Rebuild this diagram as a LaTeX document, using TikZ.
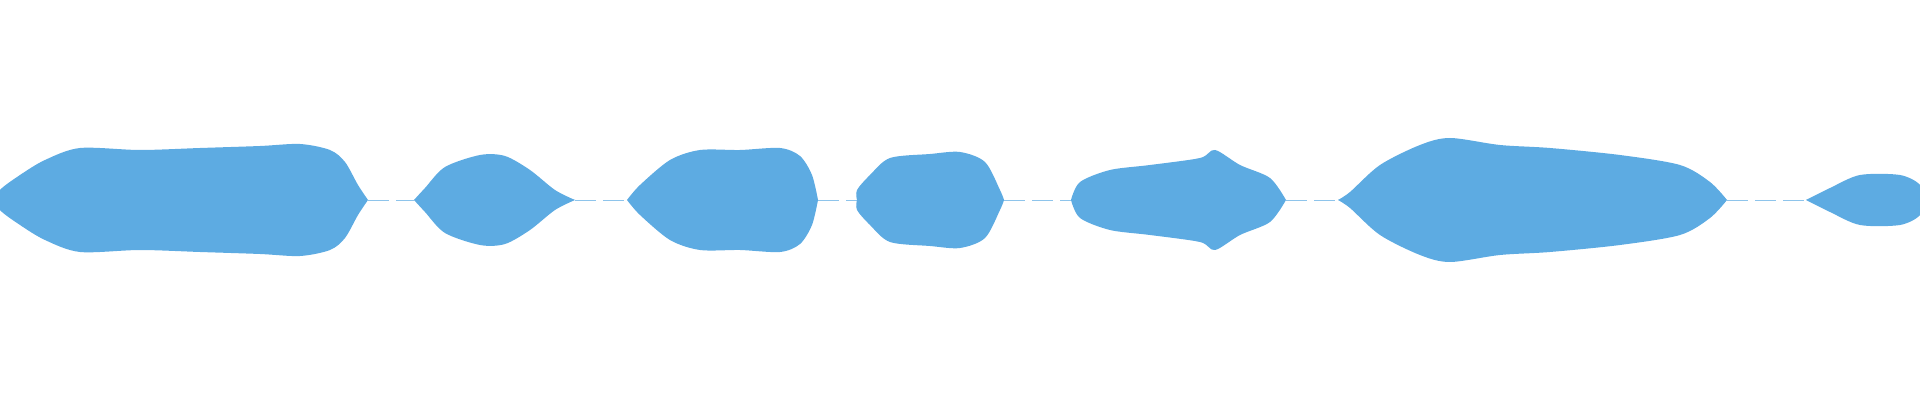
\documentclass[tikz,border=0pt]{standalone}
\usetikzlibrary{positioning}
\definecolor{waveBlue}{HTML}{5DABE2}
\newcommand{\waveBlob}[1]{%
	\fill[Wave] plot[smooth] coordinates {#1} -- cycle;
	\begin{scope}[yscale=-1]
		\fill[Wave] plot[smooth] coordinates {#1} -- cycle;
	\end{scope}}

\begin{document}
\begin{tikzpicture}[x=0.01cm,y=0.01cm,
	Wave/.style={fill=waveBlue},
	Gap/.style={draw=waveBlue!70,line width=0.2pt,dash pattern=on 6pt off 2pt},
]
	\useasboundingbox (0,-200) rectangle (1920,200);
	% silent parts between the bursts
	\coordinate (g0) at (368,0);  \coordinate (g1) at (414,0);
	\coordinate (g2) at (575,0);  \coordinate (g3) at (627,0);
	\coordinate (g4) at (818,0);  \coordinate (g5) at (857,0);
	\coordinate (g6) at (1004,0); \coordinate (g7) at (1071,0);
	\coordinate (g8) at (1286,0); \coordinate (g9) at (1338,0);
	\coordinate (g10) at (1727,0); \coordinate (g11) at (1806,0);
	\draw[Gap] (g0) -- (g1) (g2) -- (g3) (g4) -- (g5)
		(g6) -- (g7) (g8) -- (g9) (g10) -- (g11);
	% bursts
	\waveBlob{(0,0) (0,10) (20,25) (45,40) (80,52) (140,50) (200,52) (260,54) (300,56) (330,50) (345,38) (358,15) (368,0)}
	\waveBlob{(414,0) (425,12) (445,33) (480,45) (505,44) (530,30) (555,10) (575,0)}
	\waveBlob{(627,0) (640,15) (670,40) (700,50) (740,50) (780,52) (800,44) (812,25) (818,0)}
	\waveBlob{(857,0) (857,10) (870,25) (890,42) (930,46) (960,48) (985,38) (1000,10) (1004,0)}
	\waveBlob{(1071,0) (1080,18) (1110,30) (1150,35) (1200,42) (1215,50) (1240,35) (1270,22) (1286,0)}
	\waveBlob{(1338,0) (1350,8) (1380,35) (1420,55) (1450,62) (1500,55) (1550,52) (1620,45) (1680,35) (1710,18) (1727,0)}
	\waveBlob{(1806,0) (1830,12) (1860,25) (1900,25) (1920,15) (1920,0)}
\end{tikzpicture}
\end{document}
